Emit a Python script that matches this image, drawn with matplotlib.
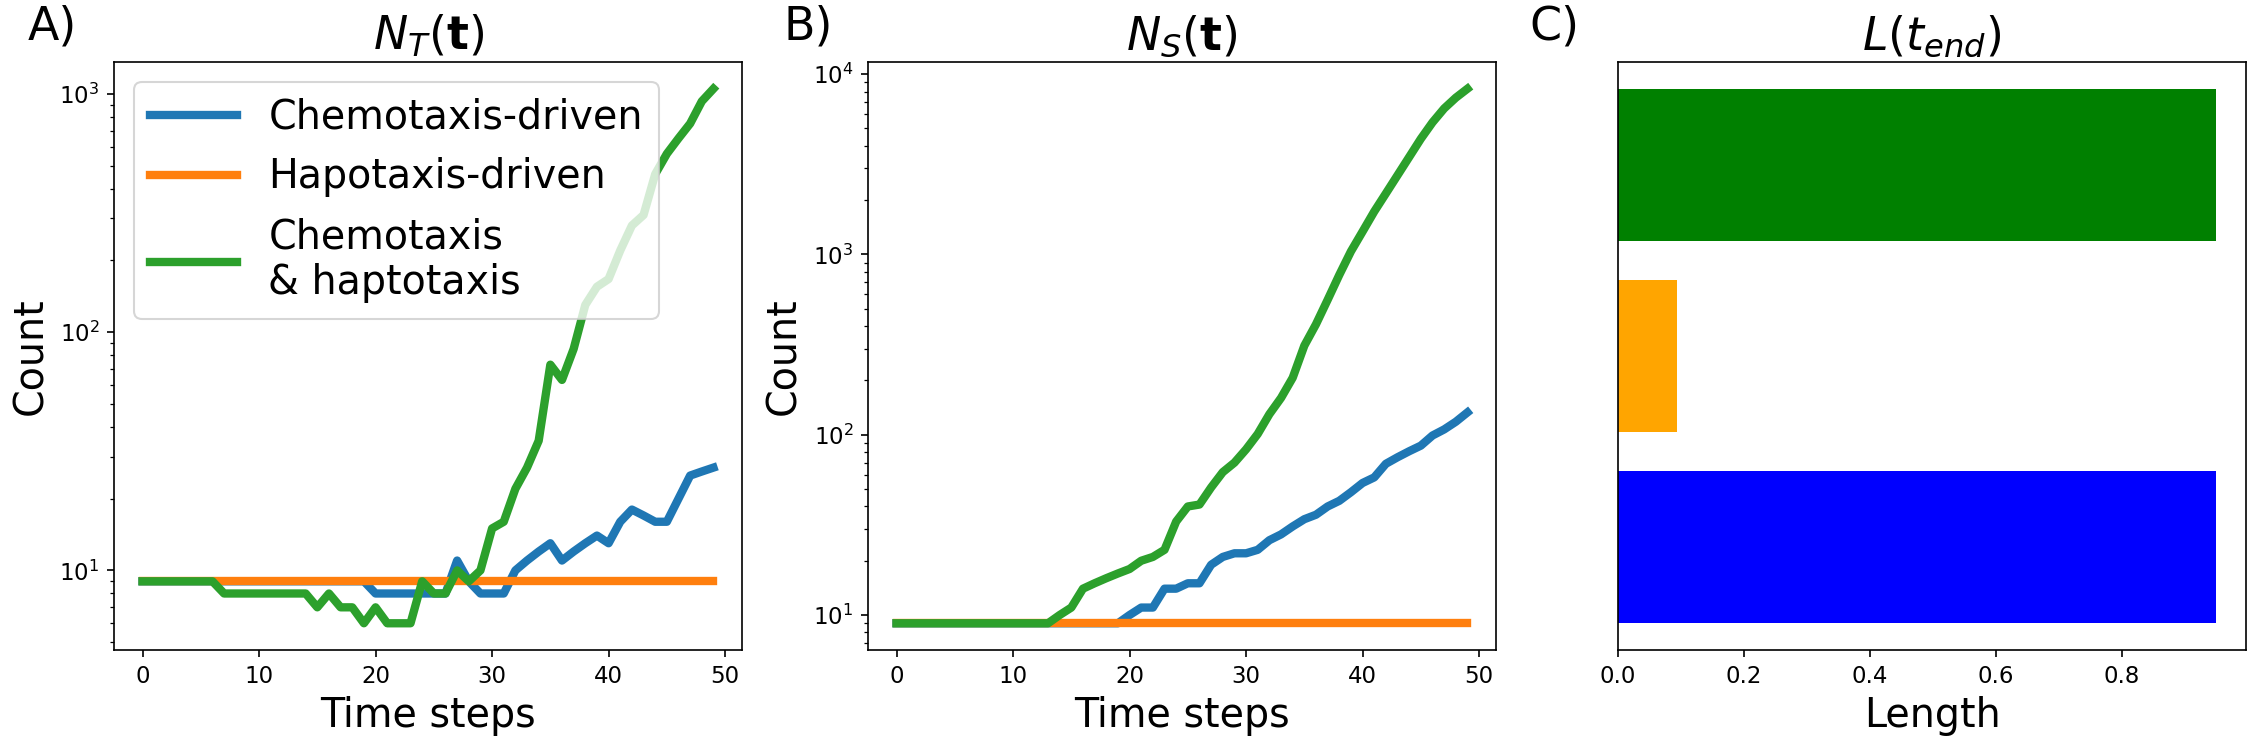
import matplotlib
matplotlib.use("Agg")
import matplotlib.pyplot as plt
import numpy as np

# ---------------- data ----------------
time_steps = list(range(50))

# Panel A: N_T(t)
nt_chemotaxis = [9]*20 + [8, 8, 8, 8, 8, 8, 8, 11, 9, 8, 8, 8, 10, 11, 12, 13, 11, 12, 13, 14,
                          13, 16, 18, 17, 16, 16, 20, 25, 26, 27]
nt_haptotaxis = [9]*50
nt_both = [9, 9, 9, 9, 9, 9, 9, 8, 8, 8, 8, 8, 8, 8, 8, 7, 8, 7, 7, 6,
           7, 6, 6, 6, 9, 8, 8, 10, 9, 10, 15, 16, 22, 27, 35, 73, 63, 85, 130, 155,
           167, 220, 280, 310, 460, 560, 650, 750, 930, 1050]

# Panel B: N_S(t)
ns_chemotaxis = [9]*20 + [10, 11, 11, 14, 14, 15, 15, 19, 21, 22, 22, 23, 26, 28, 31, 34, 36, 40, 43, 48,
                          54, 58, 69, 75, 81, 87, 99, 107, 118, 133]
ns_haptotaxis = [9]*50
ns_both = [9]*14 + [10, 11, 14, 15, 16, 17, 18, 20, 21, 23, 33, 40, 41, 51, 62, 70,
                    83, 101, 130, 160, 207, 312, 410, 560, 770, 1040, 1340, 1730, 2180, 2750,
                    3470, 4380, 5400, 6450, 7400, 8300]

# Panel C: L(t_end)
bar_labels = ["Chemotaxis-driven", "Hapotaxis-driven", "Chemotaxis & haptotaxis"]
bar_lengths = [0.95, 0.094, 0.95]
bar_colors = ["blue", "orange", "green"]

legend_labels = ["Chemotaxis-driven", "Hapotaxis-driven", "Chemotaxis\n& haptotaxis"]
line_colors = ["tab:blue", "tab:orange", "tab:green"]

# ---------------- figure ----------------
W, H = 2250, 744
DPI = 150
fig = plt.figure(figsize=(W/DPI, H/DPI), dpi=DPI)

TICK_FS = 11
LABEL_FS = 19
TITLE_FS = 22
LEGEND_FS = 19
LW = 4

top_px, bot_px = 62, 650
ax_w = 628
lefts = [114, 868, 1618]
axes = []
for lx in lefts:
    ax = fig.add_axes([lx/W, 1-bot_px/H, ax_w/W, (bot_px-top_px)/H])
    axes.append(ax)

axA, axB, axC = axes

for ys, c, lab in zip([nt_chemotaxis, nt_haptotaxis, nt_both], line_colors, legend_labels):
    axA.plot(time_steps, ys, color=c, lw=LW, label=lab)
axA.set_yscale("log")
axA.set_title(r"$N_T(\mathbf{t})$", fontsize=TITLE_FS)
axA.set_xlabel("Time steps", fontsize=LABEL_FS)
axA.set_ylabel("Count", fontsize=LABEL_FS)
axA.legend(loc="upper left", fontsize=LEGEND_FS, handlelength=2.2)

for ys, c, lab in zip([ns_chemotaxis, ns_haptotaxis, ns_both], line_colors, legend_labels):
    axB.plot(time_steps, ys, color=c, lw=LW, label=lab)
axB.set_yscale("log")
axB.set_title(r"$N_S(\mathbf{t})$", fontsize=TITLE_FS)
axB.set_xlabel("Time steps", fontsize=LABEL_FS)
axB.set_ylabel("Count", fontsize=LABEL_FS)

ypos = np.arange(len(bar_lengths))
axC.barh(ypos, bar_lengths, color=bar_colors)
axC.set_yticks([])
axC.set_title(r"$L(t_{end})$", fontsize=TITLE_FS)
axC.set_xlabel("Length", fontsize=LABEL_FS)

for ax in axes:
    ax.tick_params(labelsize=TICK_FS)

for lx, letter in zip([28, 783, 1529], ["A)", "B)", "C)"]):
    fig.text(lx/W, 1-39/H, letter, fontsize=TITLE_FS, va="baseline", ha="left")

fig.savefig("out.png", dpi=DPI)
